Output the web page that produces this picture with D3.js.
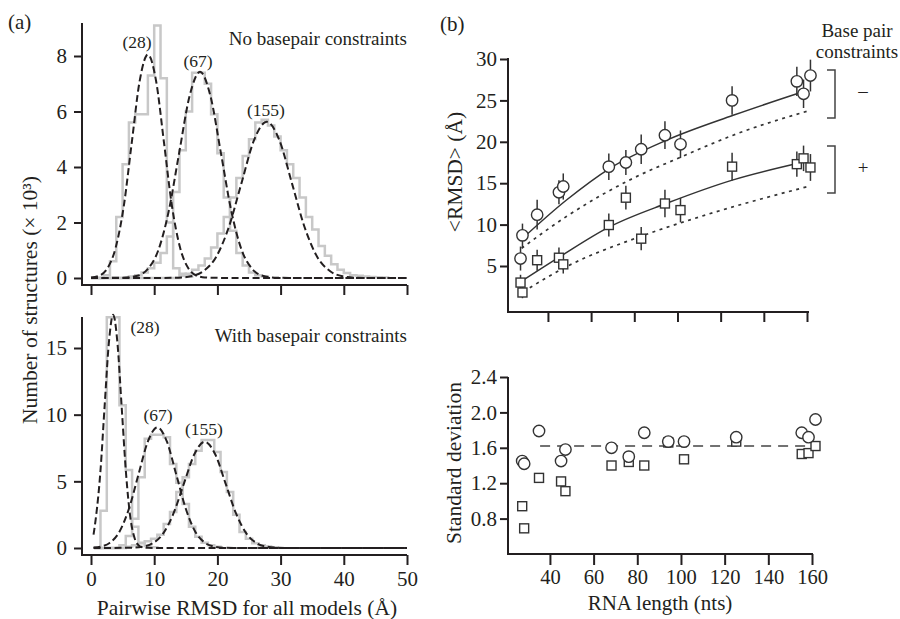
<!DOCTYPE html>
<html>
<head>
<meta charset="utf-8">
<script src="https://cdn.jsdelivr.net/npm/d3@7"></script>
<style>
  body { margin: 0; background: #fff; }
  svg text { font-family: "Liberation Serif", "Times New Roman", serif; fill: #231f20; }
</style>
</head>
<body>
<svg width="900" height="619"></svg>
<script>
// ---- (a) pairwise RMSD histograms, counts in thousands, 1 Å bins ----
const rmsdTicks = [0, 10, 20, 30, 40, 50];
const countTicksFree = [0, 2, 4, 6, 8];
const countTicksBp = [0, 5, 10, 15];
const sizeLabels = ["(28)", "(67)", "(155)"];

// no basepair constraints (bins start at 0 Å)
const histFree28 = [0, 0, 0.1, 0.6, 2.2, 4.1, 5.6, 5.9, 5.9, 7.3, 9.1, 7.2, 2.0, 0.35, 0.15, 0.05];
const histFree67 = [0, 0, 0, 0, 0, 0, 0.05, 0.1, 0.2, 0.35, 0.55, 0.9, 1.5, 3.1, 4.6, 6.0, 7.4, 7.4, 7.0, 5.9,
  4.5, 2.9, 1.7, 0.9, 0.45, 0.2, 0.1, 0.05];
const histFree155 = [0, 0, 0, 0, 0, 0, 0, 0, 0, 0, 0, 0, 0, 0, 0.08, 0.15, 0.3, 0.45, 0.7, 1.1,
  1.6, 2.2, 2.9, 3.6, 4.4, 5.0, 5.6, 5.7, 5.5, 5.1, 4.6, 4.1, 3.6, 2.9, 2.2, 1.75, 1.15, 0.8, 0.5, 0.3,
  0.18, 0.1, 0.08, 0.05, 0.04, 0.03, 0.02];
// with basepair constraints (bins start at 0.5 Å)
const histBp28 = [0, 2.8, 17.3, 17.3, 10.7, 5.85, 1.6, 0.4, 0.15, 0.05];
const histBp67 = [0, 0, 0, 0, 0.2, 0.9, 2.2, 5.3, 8.2, 8.5, 8.5, 8.3, 6.3, 4.9, 3.3, 1.6, 0.85, 0.4, 0.2, 0.1];
const histBp155 = [0, 0, 0, 0, 0, 0.1, 0.2, 0.35, 0.5, 0.7, 1.0, 1.8, 2.7, 4.2, 5.3, 6.3, 7.3, 8.1, 8.1, 7.2,
  5.7, 4.2, 2.5, 1.2, 0.7, 0.35, 0.2, 0.12, 0.06];

// fitted curves, [rmsd, count]
const fitFree28 = [[0, 0.02], [1.35, 0.09], [2.6, 0.35], [3.9, 1.09], [5.2, 2.61], [6.45, 4.88], [7.7, 7.1],
  [9.0, 8.05], [10.3, 7.1], [11.55, 4.88], [12.8, 2.61], [14.1, 1.09], [15.4, 0.35], [16.65, 0.09], [18, 0.02],
  [22, 0], [50, 0]];
const fitFree67 = [[0, 0], [5, 0.01], [7.35, 0.08], [9.0, 0.33], [10.65, 1.0], [12.3, 2.41], [13.95, 4.51],
  [15.6, 6.56], [17.25, 7.43], [18.9, 6.56], [20.55, 4.51], [22.2, 2.41], [23.85, 1.0], [25.5, 0.33],
  [27.15, 0.08], [29.5, 0.01], [33, 0], [50, 0]];
const fitFree155 = [[0, 0], [10, 0], [13.8, 0.01], [15.8, 0.06], [17.8, 0.25], [19.8, 0.76], [21.8, 1.83],
  [23.8, 3.41], [25.8, 4.97], [27.8, 5.63], [29.8, 4.97], [31.8, 3.41], [33.8, 1.83], [35.8, 0.76],
  [37.8, 0.25], [39.8, 0.06], [41.8, 0.01], [45, 0], [50, 0]];
const fitBp28 = [[0.4, 1.0], [0.8, 2.37], [1.48, 5.68], [2.15, 10.6], [2.83, 15.4], [3.5, 17.5], [4.18, 15.4],
  [4.85, 10.6], [5.53, 5.68], [6.2, 2.37], [6.88, 0.77], [7.55, 0.19], [8.23, 0.04], [9, 0.01], [12, 0], [50, 0]];
const fitBp67 = [[0.4, 0.03], [1.5, 0.1], [3.0, 0.4], [4.5, 1.22], [6.0, 2.94], [7.5, 5.49], [9.0, 7.99],
  [10.5, 9.05], [12, 7.99], [13.5, 5.49], [15, 2.94], [16.5, 1.22], [18, 0.4], [19.5, 0.1], [21, 0.02],
  [24, 0], [50, 0]];
const fitBp155 = [[0.4, 0], [6.45, 0.02], [8.1, 0.09], [9.75, 0.35], [11.4, 1.08], [13.05, 2.59], [14.7, 4.83],
  [16.35, 7.03], [18, 7.97], [19.65, 7.03], [21.3, 4.83], [22.95, 2.59], [24.6, 1.08], [26.25, 0.35],
  [27.9, 0.09], [29.55, 0.02], [33, 0], [50, 0]];

// ---- (b) mean RMSD and standard deviation vs RNA length ----
const lengthTicks = [40, 60, 80, 100, 120, 140, 160];
const rmsdMeanTicks = [5, 10, 15, 20, 25, 30];
const sdTicks = [0.8, 1.2, 1.6, 2.0, 2.4];

const rnaLength = [27.3, 28.2, 35.0, 45.1, 47.1, 68.2, 76.1, 83.2, 94.2, 101.4, 125.3, 155.3, 158.4, 161.6];
const rmsdFree = [5.9, 8.7, 11.2, 13.9, 14.6, 17.0, 17.5, 19.1, 20.8, 19.7, 25.0, 27.3, 25.8, 28.0];
const rmsdBp = [3.0, 1.8, 5.7, 6.0, 5.2, 9.95, 13.25, 8.3, 12.55, 11.75, 17.0, 17.3, 18.0, 16.9];
const sdFree = [1.45, 1.42, 1.79, 1.45, 1.58, 1.60, 1.50, 1.77, 1.67, 1.67, 1.72, 1.77, 1.72, 1.92];
const sdBp = [0.94, 0.69, 1.26, 1.22, 1.11, 1.40, 1.44, 1.40, 1.66, 1.47, 1.67, 1.53, 1.54, 1.62];
const sdAverage = [[35.5, 1.62], [160, 1.62]];

// fit lines [length, rmsd]: solid = fit to points, dotted = second model
const fitFreeSolid = [[27.4, 8.14], [48.6, 12.97], [68.7, 16.8], [95, 20.2], [125.8, 23.2], [158.2, 26.05]];
const fitFreeDotted = [[27.8, 7.14], [48.7, 11.0], [79.5, 15.6], [101.1, 18.1], [125.8, 20.8], [161.4, 23.8]];
const fitBpSolid = [[27.4, 3.1], [45.6, 6.13], [68.7, 9.75], [95, 12.57], [125.8, 15.4], [155.9, 17.4]];
const fitBpDotted = [[28.6, 1.9], [48.6, 4.92], [82.6, 8.54], [110.4, 10.95], [161.3, 14.66]];

const svg = d3.select("svg");
const ink = "#231f20";
const serif = "'Liberation Serif', 'Times New Roman', serif";

function styleAxis(g) {
  g.attr("font-family", serif).attr("font-size", 21).attr("color", ink);
  g.select(".domain").remove();
  g.selectAll(".tick line").attr("stroke-width", 2);
}

// L shaped frame: vertical at x0 from yTop down to y0, then across to x1
function frame(x0, yTop, y0, x1) {
  svg.append("path")
    .attr("d", `M${x0},${yTop}V${y0}H${x1}`)
    .attr("fill", "none").attr("stroke", ink).attr("stroke-width", 2);
}

function label(txt, x, y, size, anchor) {
  return svg.append("text").attr("x", x).attr("y", y)
    .attr("font-size", size).attr("text-anchor", anchor || "start").text(txt);
}

// ===== panel (a) =====
const xR = d3.scaleLinear().domain([0, 50]).range([91, 407]);
const yFree = d3.scaleLinear().domain([0, 8]).range([278, 56]);
const yBp = d3.scaleLinear().domain([0, 15]).range([548, 348]);

function histPanel(y, hists, start, fits) {
  const step = d3.line().x(d => xR(d[0])).y(d => y(d[1])).curve(d3.curveStepAfter);
  hists.forEach(h => {
    const pts = [[start, 0]].concat(h.map((v, i) => [start + i, v]), [[start + h.length, 0]]);
    svg.append("path").attr("d", step(pts))
      .attr("fill", "none").attr("stroke", "#c8c8c8").attr("stroke-width", 2.5);
  });
  const smooth = d3.line().x(d => xR(d[0])).y(d => y(d[1])).curve(d3.curveMonotoneX);
  fits.forEach(f => {
    svg.append("path").attr("d", smooth(f))
      .attr("fill", "none").attr("stroke", ink).attr("stroke-width", 2)
      .attr("stroke-dasharray", "7,3.5");
  });
}

histPanel(yFree, [histFree28, histFree67, histFree155], 0, [fitFree28, fitFree67, fitFree155]);
histPanel(yBp, [histBp28, histBp67, histBp155], 0.5, [fitBp28, fitBp67, fitBp155]);

// axes, panel (a)
frame(82, 23, 285, 407);
svg.append("g").attr("transform", "translate(82,0)")
  .call(d3.axisLeft(yFree).tickValues(countTicksFree).tickSize(8).tickPadding(7))
  .call(styleAxis);
svg.append("g").attr("transform", "translate(0,285)")
  .call(d3.axisBottom(xR).tickValues(rmsdTicks).tickSize(10).tickFormat(""))
  .call(styleAxis);

frame(82, 317, 555, 407);
svg.append("g").attr("transform", "translate(82,0)")
  .call(d3.axisLeft(yBp).tickValues(countTicksBp).tickSize(8).tickPadding(7))
  .call(styleAxis);
svg.append("g").attr("transform", "translate(0,555)")
  .call(d3.axisBottom(xR).tickValues(rmsdTicks).tickSize(10).tickPadding(6))
  .call(styleAxis);

label("(a)", 8, 29, 21);
label("No basepair constraints", 407, 45, 19, "end");
label("With basepair constraints", 407, 342, 19, "end");
label(sizeLabels[0], 137, 48, 17.5, "middle");
label(sizeLabels[1], 198, 67, 17.5, "middle");
label(sizeLabels[2], 266, 116, 17.5, "middle");
label(sizeLabels[0], 145, 333, 17.5, "middle");
label(sizeLabels[1], 158, 421, 17.5, "middle");
label(sizeLabels[2], 204, 435, 17.5, "middle");

label("Pairwise RMSD for all models (Å)", 247, 615, 21.5, "middle");
svg.append("text").attr("transform", "translate(37,300) rotate(-90)")
  .attr("font-size", 21.5).attr("text-anchor", "middle")
  .text("Number of structures (× 10³)");

// ===== panel (b) =====
const xTop = d3.scaleLinear().domain([21.5, 160]).range([508, 807]);
const yTop = d3.scaleLinear().domain([0, 30]).range([307.4, 59]);
const xBot = d3.scaleLinear().domain([20.8, 160]).range([508, 812]);
const yBot = d3.scaleLinear().domain([0.4, 2.4]).range([554, 377]);

const pts = rnaLength.map((L, i) => ({ L, free: rmsdFree[i], bp: rmsdBp[i], sdF: sdFree[i], sdB: sdBp[i] }));

// fit lines
const fitLine = d3.line().x(d => xTop(d[0])).y(d => yTop(d[1])).curve(d3.curveMonotoneX);
[[fitFreeSolid, null], [fitBpSolid, null], [fitFreeDotted, "3,4.5"], [fitBpDotted, "3,4.5"]].forEach(([f, dash]) => {
  svg.append("path").attr("d", fitLine(f))
    .attr("fill", "none").attr("stroke", "#333").attr("stroke-width", dash ? 1.7 : 1.5)
    .attr("stroke-dasharray", dash);
});

// error bars (± one standard deviation)
const bars = svg.append("g").attr("stroke", "#333").attr("stroke-width", 1.5);
bars.selectAll(".ef").data(pts).join("line")
  .attr("x1", d => xTop(d.L)).attr("x2", d => xTop(d.L))
  .attr("y1", d => yTop(d.free - d.sdF)).attr("y2", d => yTop(d.free + d.sdF));
bars.selectAll(".eb").data(pts).join("line")
  .attr("x1", d => xTop(d.L)).attr("x2", d => xTop(d.L))
  .attr("y1", d => yTop(d.bp - d.sdB)).attr("y2", d => yTop(d.bp + d.sdB));

const sq = 9;
function squares(g, x, y, key) {
  g.selectAll(null).data(pts).join("rect")
    .attr("x", d => x(d.L) - sq / 2).attr("y", d => y(d[key]) - sq / 2)
    .attr("width", sq).attr("height", sq)
    .attr("fill", "#fff").attr("stroke", "#333").attr("stroke-width", 1.4);
}
function circles(g, x, y, key) {
  g.selectAll(null).data(pts).join("circle")
    .attr("cx", d => x(d.L)).attr("cy", d => y(d[key])).attr("r", 5.7)
    .attr("fill", "#fff").attr("stroke", "#333").attr("stroke-width", 1.4);
}
const topMarks = svg.append("g");
circles(topMarks, xTop, yTop, "free");
squares(topMarks, xTop, yTop, "bp");

frame(508, 58, 312, 809);
svg.append("g").attr("transform", "translate(508,0)")
  .call(d3.axisLeft(yTop).tickValues(rmsdMeanTicks).tickSize(8).tickPadding(3))
  .call(styleAxis);
svg.append("g").attr("transform", "translate(0,312)")
  .call(d3.axisBottom(xTop).tickValues(lengthTicks).tickSize(10).tickFormat(""))
  .call(styleAxis);

// bottom: standard deviation
svg.append("path")
  .attr("d", d3.line().x(d => xBot(d[0])).y(d => yBot(d[1]))(sdAverage))
  .attr("fill", "none").attr("stroke", "#444").attr("stroke-width", 1.6)
  .attr("stroke-dasharray", "10,7");
const botMarks = svg.append("g");
squares(botMarks, xBot, yBot, "sdB");
circles(botMarks, xBot, yBot, "sdF");

frame(508, 377, 554, 813);
svg.append("g").attr("transform", "translate(508,0)")
  .call(d3.axisLeft(yBot).tickValues(sdTicks).tickSize(8).tickPadding(3).tickFormat(d3.format(".1f")))
  .call(styleAxis);
svg.append("g").attr("transform", "translate(0,554)")
  .call(d3.axisBottom(xBot).tickValues(lengthTicks).tickSize(11).tickPadding(4))
  .call(g => g.selectAll(".tick text").attr("font-size", 20.5))
  .call(styleAxis);

label("(b)", 440, 31, 21);
label("Base pair", 857, 37, 19, "middle");
label("constraints", 857, 58, 19, "middle");
// brackets
[[70, 118], [146, 193]].forEach(([a, b]) => {
  svg.append("path").attr("d", `M827,${a}H835V${b}H827`)
    .attr("fill", "none").attr("stroke", "#444").attr("stroke-width", 1.5);
});
label("–", 863, 97, 19, "middle");
label("+", 863, 174, 19, "middle");

label("RNA length (nts)", 660, 610, 21, "middle");
svg.append("text").attr("transform", "translate(462,172) rotate(-90)")
  .attr("font-size", 21.5).attr("text-anchor", "middle").text("<RMSD> (Å)");
svg.append("text").attr("transform", "translate(461,463) rotate(-90)")
  .attr("font-size", 21.5).attr("text-anchor", "middle").text("Standard deviation");
</script>
</body>
</html>
